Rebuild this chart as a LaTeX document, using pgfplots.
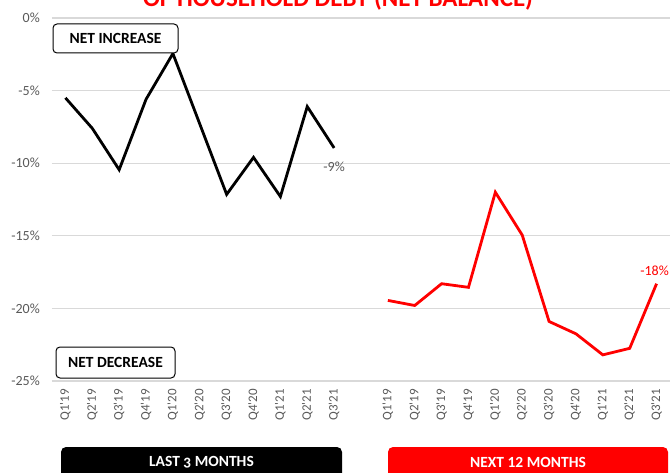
\documentclass[border=0pt]{standalone}
\usepackage{pgfplots}
\pgfplotsset{compat=1.18}
\usepackage{fontspec}
\setmainfont{Carlito}
\definecolor{tickgray}{HTML}{595959}
\definecolor{gridgray}{HTML}{D9D9D9}
\definecolor{xred}{HTML}{FF0000}
\newcommand{\q}{\textquotesingle}
\begin{document}
\begin{tikzpicture}
\begin{axis}[
  at={(0,0)}, anchor=south west, scale only axis,
  width=618pt, height=363pt,
  xmin=-0.5, xmax=22.5, ymin=-25, ymax=0,
  axis line style={draw=none},
  major tick length=0pt,
  ytick={-25,-20,-15,-10,-5,0},
  yticklabels={-25\%,-20\%,-15\%,-10\%,-5\%,0\%},
  xtick={0,1,2,3,4,5,6,7,8,9,10,12,13,14,15,16,17,18,19,20,21,22},
  xticklabels={Q1\q19,Q2\q19,Q3\q19,Q4\q19,Q1\q20,Q2\q20,Q3\q20,Q4\q20,Q1\q21,Q2\q21,Q3\q21,
               Q1\q19,Q2\q19,Q3\q19,Q4\q19,Q1\q20,Q2\q20,Q3\q20,Q4\q20,Q1\q21,Q2\q21,Q3\q21},
  ymajorgrids,
  major grid style={draw=gridgray, line width=1.3pt},
  yticklabel style={font=\fontsize{14}{16}\selectfont, text=tickgray, anchor=east, inner sep=0pt, xshift=-12pt},
  xticklabel style={font=\fontsize{13}{15}\selectfont, text=tickgray, rotate=90, anchor=east, inner sep=0pt, xshift=-8pt},
  clip=false,
]
\addplot[black, line width=2.8pt] coordinates {(0,-5.5) (1,-7.6) (2,-10.45) (3,-5.6) (4,-2.45) (5,-7.3) (6,-12.15) (7,-9.6) (8,-12.3) (9,-6.1) (10,-8.95)};
\addplot[xred, line width=2.8pt] coordinates {(12,-19.45) (13,-19.8) (14,-18.3) (15,-18.55) (16,-12) (17,-14.95) (18,-20.9) (19,-21.75) (20,-23.2) (21,-22.75) (22,-18.3)};
\node[font=\fontsize{14}{16}\selectfont, text=tickgray, yshift=-19pt] at (axis cs:10,-8.95) {-9\%};
\node[font=\fontsize{14}{16}\selectfont, text=xred, yshift=13pt, xshift=-2pt] at (axis cs:22,-18.3) {-18\%};
\end{axis}
% annotation boxes
\draw[black, line width=1pt, rounded corners=4pt, fill=white] (1pt,328pt) rectangle (126pt,357pt);
\node[font=\bfseries\fontsize{15.5}{18}\selectfont] at (63.5pt,342.5pt) {NET INCREASE};
\draw[black, line width=1pt, rounded corners=4pt, fill=white] (4pt,3pt) rectangle (123pt,34pt);
\node[font=\bfseries\fontsize{15.5}{18}\selectfont] at (63.5pt,18.5pt) {NET DECREASE};
% bottom boxes
\fill[black, rounded corners=5pt] (9pt,-66pt) rectangle (290pt,-120pt);
\node[font=\bfseries\fontsize{15.5}{18}\selectfont, text=white] at (149.5pt,-81pt) {LAST {\addfontfeatures{Numbers=OldStyle}3} MONTHS};
\fill[xred, rounded corners=5pt] (336pt,-66pt) rectangle (616pt,-120pt);
\node[font=\bfseries\fontsize{15.5}{18}\selectfont, text=white] at (476pt,-81pt) {NEXT 12 MONTHS};
% title (cut off at the top, as in the reference)
\node[anchor=base, text=xred, font=\bfseries\fontsize{25}{30}\selectfont] at (286pt,374.5pt) {OF HOUSEHOLD DEBT (NET BALANCE)};
\pgfresetboundingbox
\useasboundingbox (-52pt,-91pt) rectangle (618pt,381pt);
\end{tikzpicture}
\end{document}
